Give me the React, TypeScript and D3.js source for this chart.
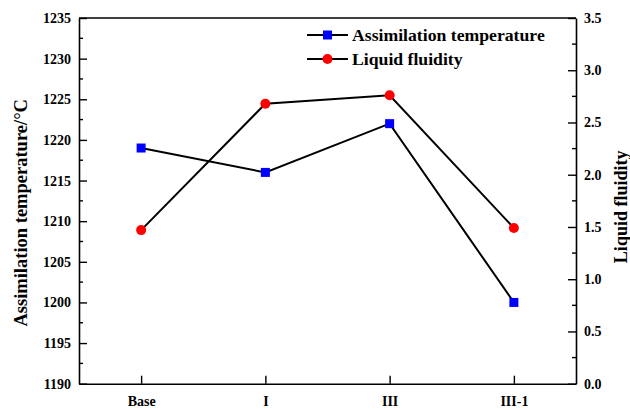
import React, { useRef, useEffect } from 'react';
import * as d3 from 'd3';

const categories = ['Base', 'I', 'III', 'III-1'];
const assimilationTemp = [1219, 1216, 1222, 1200];
const liquidFluidity = [1.47, 2.68, 2.76, 1.49];
const leftTicks = [1190, 1195, 1200, 1205, 1210, 1215, 1220, 1225, 1230, 1235];
const rightTicks = [0, 0.5, 1.0, 1.5, 2.0, 2.5, 3.0, 3.5];

const App = () => {
  const svgRef = useRef<SVGSVGElement>(null);

  useEffect(() => {
    const w = 630;
    const h = 409;
    const m = { left: 79, right: 54, top: 18, bottom: 25.3 };
    const svg = d3.select(svgRef.current);
    svg.selectAll('*').remove();

    const font = '"Liberation Serif", "Times New Roman", serif';

    const x = d3
      .scalePoint()
      .domain(categories)
      .range([m.left, w - m.right])
      .padding(0.5);
    const yL = d3.scaleLinear().domain([1190, 1235]).range([h - m.bottom, m.top]);
    const yR = d3.scaleLinear().domain([0, 3.5]).range([h - m.bottom, m.top]);

    // left axis, ticks pointing inward
    const left = svg
      .append('g')
      .attr('transform', `translate(${m.left},0)`)
      .call(d3.axisRight(yL).tickValues(leftTicks).tickSize(8).tickSizeOuter(0).tickFormat(d3.format('d')));
    left.selectAll('text').attr('x', -8).attr('text-anchor', 'end');
    svg
      .append('g')
      .selectAll('line')
      .data(d3.range(1192.5, 1235, 5))
      .join('line')
      .attr('x1', m.left)
      .attr('x2', m.left + 4)
      .attr('y1', (d) => yL(d))
      .attr('y2', (d) => yL(d))
      .attr('stroke', '#000')
      .attr('stroke-width', 1.4);

    // right axis
    const right = svg
      .append('g')
      .attr('transform', `translate(${w - m.right},0)`)
      .call(d3.axisLeft(yR).tickValues(rightTicks).tickSize(8).tickSizeOuter(0).tickFormat(d3.format('.1f')));
    right.selectAll('text').attr('x', 8).attr('text-anchor', 'start');
    svg
      .append('g')
      .selectAll('line')
      .data(d3.range(0.25, 3.5, 0.5))
      .join('line')
      .attr('x1', w - m.right)
      .attr('x2', w - m.right - 4)
      .attr('y1', (d) => yR(d))
      .attr('y2', (d) => yR(d))
      .attr('stroke', '#000')
      .attr('stroke-width', 1.4);

    // bottom axis
    const bottom = svg
      .append('g')
      .attr('transform', `translate(0,${h - m.bottom})`)
      .call(d3.axisTop(x).tickSize(8).tickSizeOuter(0));
    bottom.selectAll('text').attr('y', 22.5).attr('dy', '0em');

    // top frame line
    svg
      .append('line')
      .attr('x1', m.left)
      .attr('x2', w - m.right)
      .attr('y1', m.top)
      .attr('y2', m.top)
      .attr('stroke', '#000')
      .attr('stroke-width', 1.6);

    svg.selectAll('.domain').attr('stroke', '#000').attr('stroke-width', 1.6);
    svg.selectAll('.tick line').attr('stroke', '#000').attr('stroke-width', 1.4);
    svg
      .selectAll('.tick text')
      .attr('fill', '#000')
      .attr('font-family', font)
      .attr('font-weight', 'bold')
      .attr('font-size', 14);

    // series lines
    const lineL = d3
      .line<number>()
      .x((d, i) => x(categories[i])!)
      .y((d) => yL(d));
    const lineR = d3
      .line<number>()
      .x((d, i) => x(categories[i])!)
      .y((d) => yR(d));

    svg
      .append('path')
      .datum(assimilationTemp)
      .attr('d', lineL)
      .attr('fill', 'none')
      .attr('stroke', '#000')
      .attr('stroke-width', 2);
    svg
      .append('path')
      .datum(liquidFluidity)
      .attr('d', lineR)
      .attr('fill', 'none')
      .attr('stroke', '#000')
      .attr('stroke-width', 2);

    svg
      .append('g')
      .selectAll('rect')
      .data(assimilationTemp)
      .join('rect')
      .attr('x', (d, i) => x(categories[i])! - 4.5)
      .attr('y', (d) => yL(d) - 4.5)
      .attr('width', 9)
      .attr('height', 9)
      .attr('fill', '#0000ff');
    svg
      .append('g')
      .selectAll('circle')
      .data(liquidFluidity)
      .join('circle')
      .attr('cx', (d, i) => x(categories[i])!)
      .attr('cy', (d) => yR(d))
      .attr('r', 5)
      .attr('fill', '#ff0000');

    // legend
    const legend = svg.append('g').attr('transform', 'translate(307,35)');
    const items = [
      { label: 'Assimilation temperature', shape: 'rect' },
      { label: 'Liquid fluidity', shape: 'circle' },
    ];
    items.forEach((it, i) => {
      const g = legend.append('g').attr('transform', `translate(0,${i * 24})`);
      g.append('line').attr('x1', 0).attr('x2', 41).attr('stroke', '#000').attr('stroke-width', 2);
      if (it.shape === 'rect') {
        g.append('rect').attr('x', 16).attr('y', -4.5).attr('width', 9).attr('height', 9).attr('fill', '#0000ff');
      } else {
        g.append('circle').attr('cx', 20.5).attr('r', 5).attr('fill', '#ff0000');
      }
      g.append('text')
        .attr('x', 45)
        .attr('dy', '0.35em')
        .attr('font-family', font)
        .attr('font-weight', 'bold')
        .attr('font-size', 17.7)
        .text(it.label);
    });

    // axis titles
    svg
      .append('text')
      .attr('transform', `translate(27,${(m.top + h - m.bottom) / 2 + 12}) rotate(-90)`)
      .attr('text-anchor', 'middle')
      .attr('font-family', font)
      .attr('font-weight', 'bold')
      .attr('font-size', 18.5)
      .text('Assimilation temperature/°C');
    svg
      .append('text')
      .attr('transform', `translate(627,${(m.top + h - m.bottom) / 2 + 6}) rotate(-90)`)
      .attr('text-anchor', 'middle')
      .attr('font-family', font)
      .attr('font-weight', 'bold')
      .attr('font-size', 18)
      .text('Liquid fluidity');
  }, []);

  return (
    <div>
      <svg ref={svgRef} width={630} height={409} style={{ position: 'absolute', left: 0, top: 0, background: '#fff' }}></svg>
    </div>
  );
};

export default App;
